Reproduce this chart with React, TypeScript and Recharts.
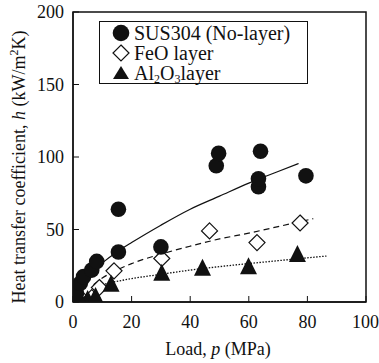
import React from "react";
import {
  ComposedChart,
  Line,
  Scatter,
  XAxis,
  YAxis,
  ReferenceArea,
  Legend,
} from "recharts";

// measured points, load p (MPa) vs h (kW/m2K)
const susLoad = [1.5, 1.2, 2.5, 3.6, 6.4, 8.1, 15.5, 15.5, 30, 48.9, 49.7, 63.3, 63.3, 64, 79.5];
const susH = [0.5, 6, 13, 17.5, 22, 28, 34.5, 64, 38, 94, 102.5, 79.5, 85, 104, 87];

const feoLoad = [2, 6.4, 9, 14, 30.3, 46.6, 62.8, 77.5];
const feoH = [4, 3, 10, 21.5, 30, 49, 41, 54.5];

const alLoad = [1, 5, 7.7, 13, 30.3, 44.2, 59.9, 76.6];
const alH = [1, 2.5, 4.5, 13, 20.5, 24, 25, 33.5];

// fitted curves
const susFitLoad = [1, 3, 5, 10, 15, 20, 30, 40, 50, 60, 70, 77];
const susFitH = [6.5, 13, 18, 27, 34.5, 41, 53, 64, 73, 82, 90, 95.5];

const feoFitLoad = [7, 10, 15, 20, 30, 40, 50, 60, 70, 82];
const feoFitH = [12, 16.5, 22, 26.5, 33, 38.5, 43.5, 47.5, 52, 57.5];

const alFitLoad = [8, 10, 20, 30, 40, 50, 60, 70, 86.5];
const alFitH = [10.5, 11.8, 16.1, 19.1, 22, 24.4, 26.5, 28.5, 31.7];

const xTicks = [0, 20, 40, 60, 80, 100];
const yTicks = [0, 50, 100, 150, 200];

const toPoints = (ps: number[], hs: number[]) =>
  ps.map((p, i) => ({ p, h: hs[i] }));

const sus = toPoints(susLoad, susH);
const feo = toPoints(feoLoad, feoH);
const al = toPoints(alLoad, alH);
const susFit = toPoints(susFitLoad, susFitH);
const feoFit = toPoints(feoFitLoad, feoFitH);
const alFit = toPoints(alFitLoad, alFitH);

const FONT = "'Liberation Serif', 'DejaVu Serif', serif";

const Dot = (props: any) => (
  <circle cx={props.cx} cy={props.cy} r={7.8} fill="#111" />
);

const Diamond = (props: any) => {
  const { cx, cy } = props;
  const d = 8;
  return (
    <polygon
      points={`${cx},${cy - d} ${cx + d},${cy} ${cx},${cy + d} ${cx - d},${cy}`}
      fill="#fff"
      stroke="#111"
      strokeWidth={1.2}
    />
  );
};

const Tri = (props: any) => {
  const { cx, cy } = props;
  const w = 8.5;
  const h = 8.5;
  return (
    <polygon
      points={`${cx},${cy - h} ${cx + w},${cy + h} ${cx - w},${cy + h}`}
      fill="#111"
    />
  );
};

const rowStyle = { display: "flex", alignItems: "center", height: 20 };

const LegendBox = () => (
  <div
    style={{
      border: "1.3px solid #111",
      width: 209,
      height: 63,
      boxSizing: "border-box",
      paddingTop: 1,
      fontFamily: FONT,
      fontSize: 20,
      lineHeight: "20px",
      color: "#111",
      background: "#fff",
    }}
  >
    <div style={rowStyle}>
      <svg width={34} height={20}>
        <circle cx={21} cy={10} r={8.3} fill="#111" />
      </svg>
      <span>SUS304 (No-layer)</span>
    </div>
    <div style={rowStyle}>
      <svg width={34} height={20}>
        <polygon points="21,2 29,10 21,18 13,10" fill="#fff" stroke="#111" strokeWidth={1.2} />
      </svg>
      <span>FeO layer</span>
    </div>
    <div style={rowStyle}>
      <svg width={34} height={20}>
        <polygon points="21,3 29,16 13,16" fill="#111" />
      </svg>
      <span>
        Al<sub style={{ fontSize: 12, verticalAlign: "-3px", lineHeight: 0 }}>2</sub>O
        <sub style={{ fontSize: 12, verticalAlign: "-3px", lineHeight: 0 }}>3</sub>layer
      </span>
    </div>
  </div>
);

const XTitle = () => (
  <text x={218} y={355} textAnchor="middle" fontFamily={FONT} fontSize={18} fill="#111">
    Load, <tspan fontStyle="italic">p</tspan> (MPa)
  </text>
);

const YTitle = () => (
  <text
    x={0}
    y={0}
    transform="translate(25,167) rotate(-90)"
    textAnchor="middle"
    fontFamily={FONT}
    fontSize={18}
    fill="#111"
  >
    Heat transfer coefficient, <tspan fontStyle="italic">h</tspan> (kW/m
    <tspan fontSize={12} dy={-7}>2</tspan>
    <tspan dy={7}>K)</tspan>
  </text>
);

const tickStyle = { fontFamily: FONT, fontSize: 18, fill: "#111" };

export default function App() {
  return (
    <div style={{ position: "absolute", left: 0, top: 0, background: "#fff" }}>
      <ComposedChart
        width={379}
        height={363}
        margin={{ top: 12, right: 13, left: 0, bottom: 0 }}
      >
        <XAxis
          type="number"
          dataKey="p"
          domain={[0, 100]}
          ticks={xTicks}
          height={61}
          tickSize={-6}
          tickMargin={19}
          axisLine={{ stroke: "#111", strokeWidth: 1.3 }}
          tickLine={{ stroke: "#111" }}
          tick={tickStyle}
          allowDataOverflow
          label={<XTitle />}
        />
        <YAxis
          type="number"
          dataKey="h"
          domain={[0, 200]}
          ticks={yTicks}
          width={73}
          tickSize={-6}
          tickMargin={15}
          axisLine={{ stroke: "#111", strokeWidth: 1.3 }}
          tickLine={{ stroke: "#111" }}
          tick={tickStyle}
          allowDataOverflow
          label={<YTitle />}
        />
        <ReferenceArea
          x1={0}
          x2={100}
          y1={0}
          y2={200}
          fill="none"
          stroke="#111"
          strokeWidth={1.5}
        />
        <Line
          data={susFit}
          dataKey="h"
          type="monotone"
          stroke="#111"
          strokeWidth={1.2}
          dot={false}
          isAnimationActive={false}
          legendType="none"
        />
        <Line
          data={feoFit}
          dataKey="h"
          type="monotone"
          stroke="#111"
          strokeWidth={1.2}
          strokeDasharray="6 4"
          dot={false}
          isAnimationActive={false}
          legendType="none"
        />
        <Line
          data={alFit}
          dataKey="h"
          type="monotone"
          stroke="#111"
          strokeWidth={1.3}
          strokeDasharray="1.5 1.5"
          dot={false}
          isAnimationActive={false}
          legendType="none"
        />
        <Scatter data={feo} dataKey="h" shape={Diamond} isAnimationActive={false} />
        <Scatter data={al} dataKey="h" shape={Tri} isAnimationActive={false} />
        <Scatter data={sus} dataKey="h" shape={Dot} isAnimationActive={false} />
        <Legend
          layout="vertical"
          align="center"
          verticalAlign="middle"
          content={<LegendBox />}
          wrapperStyle={{ top: 21, left: 99, width: 209, height: 63 }}
        />
      </ComposedChart>
    </div>
  );
}
